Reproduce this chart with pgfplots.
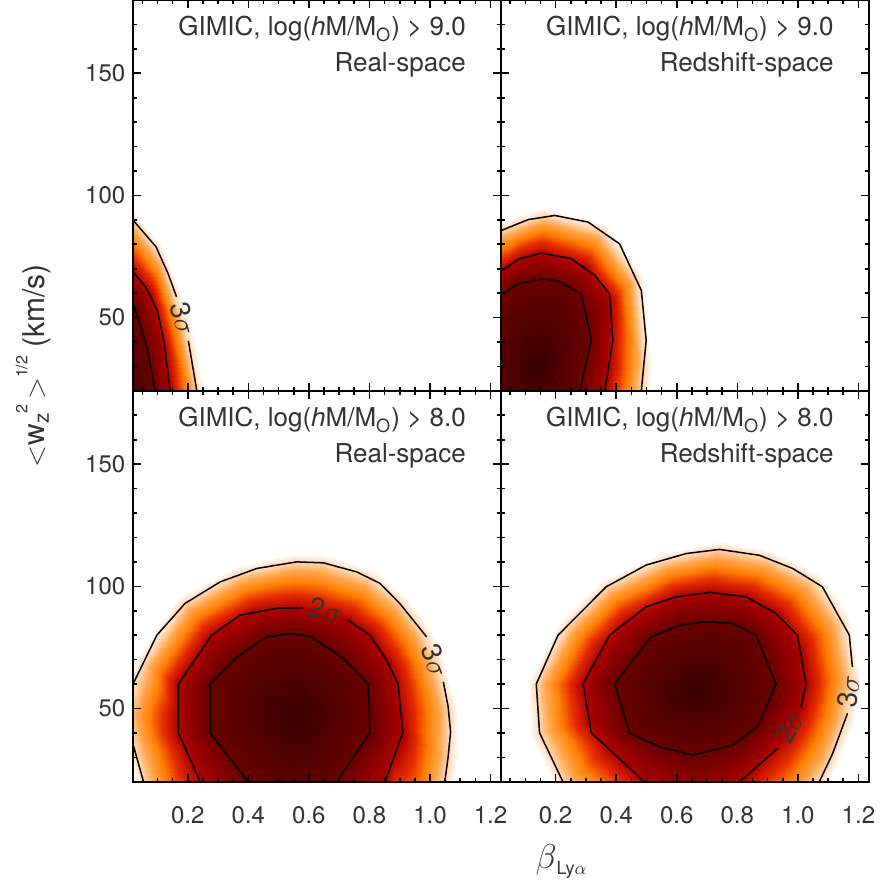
\documentclass[border=0pt]{standalone}
\usepackage{fontspec}
\setmainfont{TeX Gyre Heros}
\usepackage{pgfplots}
\pgfplotsset{compat=1.18}
\usepgfplotslibrary{groupplots}
\usetikzlibrary{calc}
\definecolor{txt}{gray}{0.2}
\pgfplotsset{
  colormap={gimic}{rgb255(0cm)=(58,0,0) rgb255(10cm)=(105,0,0) rgb255(20cm)=(172,0,0) rgb255(23cm)=(230,45,0) rgb255(25.5cm)=(255,125,0) rgb255(28cm)=(255,165,75) rgb255(30cm)=(255,214,176) rgb255(33cm)=(255,255,255)},
  ctr/.style={black, line width=0.75pt, no markers},
}
\tikzset{
  sig/.style={font=\fontsize{14}{16}\selectfont, text=txt, inner sep=0pt},
  ttl/.style={font=\fontsize{13}{15}\selectfont, text=txt, inner sep=0pt, anchor=base east},
}
\begin{document}
\begin{tikzpicture}
\begin{groupplot}[
  group style={group size=2 by 2, horizontal sep=0pt, vertical sep=0pt,
               x descriptions at=edge bottom, y descriptions at=edge left},
  scale only axis, width=184pt, height=195.5pt,
  xmin=0.02, xmax=1.235, ymin=20, ymax=180,
  xtick={0.2,0.4,0.6,0.8,1.0,1.2}, ytick={50,100,150},
  minor xtick={0.05,0.1,0.15,0.25,0.3,0.35,0.45,0.5,0.55,0.65,0.7,0.75,0.85,0.9,0.95,1.05,1.1,1.15},
  minor ytick={30,40,60,70,80,90,110,120,130,140,160,170},
  tick align=inside, major tick length=4pt, minor tick length=2pt,
  every tick/.style={black, line width=0.8pt},
  axis line style={line width=1pt},
  tick label style={font=\fontsize{12}{14}\selectfont, text=txt},
  xticklabel style={yshift=-9pt, /pgf/number format/.cd, fixed, fixed zerofill, precision=1},
  yticklabel style={xshift=-0.5pt},
  /pgf/number format/assume math mode=true,
  colormap name=gimic, point meta min=0, point meta max=3.3,
  axis on top,
]
% ---------------- top left ----------------
\nextgroupplot
\coordinate (tl) at (rel axis cs:0,1);
\addplot[surf, shader=interp, point meta=explicit, mesh/rows=5, mesh/cols=11] table[meta=v] {
x y v
-0.02 20 0
-0.02 20 0
-0.02 20 0
-0.02 20 0
-0.02 20 0
-0.02 20 0
-0.02 20 0
-0.02 20 0
-0.02 20 0
-0.02 20 0
-0.02 20 0
0.092 20 1
0.074 32 1
0.045 46 1
0.02 55.7 1
-0.02 58 1
-0.12 48 1
-0.14 20 1
-0.1 0 1
0.03 -8 1
0.085 5 1
0.092 20 1
0.142 20 2
0.121 38 2
0.08 58.9 2
0.02 68.7 2
-0.02 72 2
-0.15 62 2
-0.2 20 2
-0.15 -10 2
0.04 -20 2
0.14 0 2
0.142 20 2
0.23 20 3
0.188 46 3
0.11 74.6 3
0.02 89.8 3
-0.02 94 3
-0.2 80 3
-0.28 20 3
-0.2 -20 3
0.06 -40 3
0.22 -10 3
0.23 20 3
0.258 20 3.3
0.214 47.5 3.3
0.126 77.5 3.3
0.025 93.2 3.3
-0.02 97.5 3.3
-0.22 82.5 3.3
-0.308 20 3.3
-0.22 -22.5 3.3
0.06 -43.5 3.3
0.24 -12.5 3.3
0.258 20 3.3
};
\addplot[ctr] coordinates {(0.02,89.8) (0.095,79) (0.135,68) (0.163,58.5)};
\addplot[ctr] coordinates {(0.202,40.5) (0.23,20)};
\addplot[ctr] coordinates {(0.02,68.7) (0.062,62.3) (0.10,52.8) (0.122,39.8) (0.142,20)};
\addplot[ctr] coordinates {(0.02,55.7) (0.065,38) (0.092,20)};
\node[sig, rotate=-75] at (axis cs:0.185,49.6) {3$\sigma$};
\node[ttl] at ($(rel axis cs:1,1)+(-17.5pt,-18pt)$) {GIMIC, log(\textit{h}M/M\textsubscript{O}) > 9.0};
\node[ttl] at ($(rel axis cs:1,1)+(-17.5pt,-36pt)$) {Real-space};
% ---------------- top right ----------------
\nextgroupplot
\addplot[surf, shader=interp, point meta=explicit, mesh/rows=5, mesh/cols=13] table[meta=v] {
x y v
0.14 30 0
0.14 30 0
0.14 30 0
0.14 30 0
0.14 30 0
0.14 30 0
0.14 30 0
0.14 30 0
0.14 30 0
0.14 30 0
0.14 30 0
0.14 30 0
0.14 30 0
0.298 30 1
0.302 50 1
0.245 62.5 1
0.153 65.8 1
0.076 63.7 1
0.023 59.6 1
-0.05 45 1
-0.07 30 1
-0.03 5 1
0.14 -5 1
0.24 5 1
0.279 20 1
0.298 30 1
0.375 30 2
0.38 57 2
0.29 70.7 2
0.153 76.4 2
0.081 74.1 2
0.023 69.3 2
-0.08 58 2
-0.12 35 2
-0.08 0 2
0.14 -15 2
0.33 3 2
0.362 20 2
0.375 30 2
0.491 30 3
0.464 66 3
0.35 85.4 3
0.16 91.8 3
0.075 88.3 3
0.023 85.7 3
-0.12 75 3
-0.18 45 3
-0.15 -10 3
0.14 -30 3
0.46 0 3
0.483 20 3
0.491 30 3
0.519 30 3.3
0.488 68 3.3
0.365 88.4 3.3
0.162 95.3 3.3
0.072 91.5 3.3
0.013 89 3.3
-0.14 77.5 3.3
-0.208 45 3.3
-0.17 -12.5 3.3
0.14 -33.5 3.3
0.48 -2.5 3.3
0.511 20 3.3
0.519 30 3.3
};
\addplot[ctr] coordinates {(0.02,85.6) (0.109,90.1) (0.197,91.8) (0.307,89.1) (0.411,80.2) (0.483,61.1) (0.499,40.7) (0.483,20)};
\addplot[ctr] coordinates {(0.02,69.2) (0.081,74.1) (0.153,76.4) (0.252,74.1) (0.329,67.3) (0.378,59.7) (0.389,40.7) (0.362,20)};
\addplot[ctr] coordinates {(0.02,59.5) (0.076,63.7) (0.153,65.8) (0.208,65.1) (0.285,59.6) (0.318,40.7) (0.279,20)};
\node[ttl] at ($(rel axis cs:1,1)+(-17.5pt,-18pt)$) {GIMIC, log(\textit{h}M/M\textsubscript{O}) > 9.0};
\node[ttl] at ($(rel axis cs:1,1)+(-17.5pt,-36pt)$) {Redshift-space};
% ---------------- bottom left ----------------
\nextgroupplot
\coordinate (bl) at (rel axis cs:0,0);
\addplot[surf, shader=interp, point meta=explicit, mesh/rows=5, mesh/cols=21] table[meta=v] {
x y v
0.55 48 0
0.55 48 0
0.55 48 0
0.55 48 0
0.55 48 0
0.55 48 0
0.55 48 0
0.55 48 0
0.55 48 0
0.55 48 0
0.55 48 0
0.55 48 0
0.55 48 0
0.55 48 0
0.55 48 0
0.55 48 0
0.55 48 0
0.55 48 0
0.55 48 0
0.55 48 0
0.55 48 0
0.803 48 1
0.796 60 1
0.755 65.3 1
0.714 70.5 1
0.665 74.6 1
0.609 79.3 1
0.538 80.7 1
0.461 79.3 1
0.362 71.1 1
0.274 60 1
0.274 48 1
0.274 40 1
0.337 30 1
0.40 20 1
0.47 11 1
0.55 8 1
0.63 11 1
0.692 20 1
0.747 30 1
0.802 40 1
0.803 48 1
0.905 48 2
0.877 65 2
0.857 69.8 2
0.802 80 2
0.73 86.1 2
0.635 89.4 2
0.55 91.2 2
0.42 89.5 2
0.279 80 2
0.169 60 2
0.169 48 2
0.169 40 2
0.205 30 2
0.241 20 2
0.33 3 2
0.55 -3 2
0.76 3 2
0.851 20 2
0.88 30 2
0.910 40 2
0.905 48 2
1.062 48 3
1.017 70 3
0.968 82.5 3
0.90 93 3
0.80 103.3 3
0.648 109.6 3
0.55 110 3
0.37 105 3
0.191 93 3
0.051 68 3
0.0 48 3
0.02 36 3
0.08 10 3
0.2 -8 3
0.4 -15 3
0.55 -18 3
0.70 -15 3
0.88 -8 3
1.03 5 3
1.060 30.2 3
1.062 48 3
1.093 48 3.3
1.045 71.3 3.3
0.993 84.6 3.3
0.921 95.7 3.3
0.815 106.6 3.3
0.654 113.3 3.3
0.55 113.7 3.3
0.359 108.4 3.3
0.169 95.7 3.3
0.021 69.2 3.3
-0.033 48 3.3
-0.012 35.3 3.3
0.052 7.7 3.3
0.179 -11.4 3.3
0.391 -18.8 3.3
0.55 -22 3.3
0.709 -18.8 3.3
0.90 -11.4 3.3
1.059 2.4 3.3
1.091 29.1 3.3
1.093 48 3.3
};
\addplot[ctr] coordinates {(0.054,20) (0.02,35) (0.0,47) (0.02,60.2) (0.098,80) (0.191,93) (0.307,101.8) (0.428,107.3) (0.56,110) (0.648,109.6) (0.758,105.9) (0.835,101.2) (0.90,93) (0.945,86.1) (0.989,79.3)};
\addplot[ctr] coordinates {(1.044,60.9) (1.060,50.7) (1.068,40.4) (1.060,30.2) (1.049,20)};
\addplot[ctr] coordinates {(0.241,20) (0.169,40) (0.169,60) (0.279,80) (0.373,88.2) (0.494,91) (0.582,91.2)};
\addplot[ctr] coordinates {(0.730,86.1) (0.802,80) (0.857,69.8) (0.895,60) (0.910,40) (0.851,20)};
\addplot[ctr] coordinates {(0.40,20) (0.274,40) (0.274,60) (0.362,71.1) (0.461,79.3) (0.538,80.7) (0.609,79.3) (0.714,70.5) (0.796,60) (0.802,40) (0.692,20)};
\node[sig, rotate=-14] at (axis cs:0.657,90.3) {2$\sigma$};
\node[sig, rotate=-70] at (axis cs:1.016,69.5) {3$\sigma$};
\node[ttl] at ($(rel axis cs:1,1)+(-17.5pt,-18pt)$) {GIMIC, log(\textit{h}M/M\textsubscript{O}) > 8.0};
\node[ttl] at ($(rel axis cs:1,1)+(-17.5pt,-36pt)$) {Real-space};
% ---------------- bottom right ----------------
\nextgroupplot
\coordinate (br) at (rel axis cs:1,0);
\addplot[surf, shader=interp, point meta=explicit, mesh/rows=5, mesh/cols=19] table[meta=v] {
x y v
0.66 57 0
0.66 57 0
0.66 57 0
0.66 57 0
0.66 57 0
0.66 57 0
0.66 57 0
0.66 57 0
0.66 57 0
0.66 57 0
0.66 57 0
0.66 57 0
0.66 57 0
0.66 57 0
0.66 57 0
0.66 57 0
0.66 57 0
0.66 57 0
0.66 57 0
0.928 60 1
0.895 70 1
0.862 80 1
0.785 84.8 1
0.697 85.5 1
0.609 84.1 1
0.516 79.3 1
0.458 70 1
0.395 60 1
0.42 50 1
0.444 40 1
0.543 34.3 1
0.60 32 1
0.653 30.9 1
0.72 32.5 1
0.785 35 1
0.867 42.5 1
0.90 51 1
0.928 60 1
1.027 60 2
1.006 75 2
0.928 88.9 2
0.829 95.7 2
0.708 97.5 2
0.598 95.7 2
0.44 86 2
0.356 75 2
0.290 60 2
0.309 45 2
0.379 33 2
0.493 20 2
0.56 13 2
0.65 10 2
0.75 14 2
0.85 24.6 2
0.96 39.6 2
1.01 50.7 2
1.027 60 2
1.178 62 3
1.143 86 3
1.05 102.2 3
0.90 111.4 3
0.741 115.1 3
0.56 110.9 3
0.367 99.8 3
0.235 83.4 3
0.136 60 3
0.147 40 3
0.224 20 3
0.36 0 3
0.52 -5 3
0.65 -7 3
0.82 -5 3
0.98 5 3
1.095 26 3
1.152 44 3
1.178 62 3
1.209 62.3 3.3
1.172 87.7 3.3
1.073 104.9 3.3
0.914 114.7 3.3
0.746 118.6 3.3
0.554 114.1 3.3
0.349 102.4 3.3
0.209 85.0 3.3
0.105 60.2 3.3
0.116 39 3.3
0.198 17.8 3.3
0.342 -3.4 3.3
0.512 -8.7 3.3
0.649 -10.8 3.3
0.83 -8.7 3.3
0.999 1.9 3.3
1.121 24.1 3.3
1.182 43.2 3.3
1.209 62.3 3.3
};
\addplot[ctr] coordinates {(0.224,20) (0.147,40) (0.136,60) (0.208,80) (0.367,99.8) (0.499,108.7) (0.631,113.4) (0.741,115.1) (0.873,112.7) (0.983,107.3) (1.081,99.8) (1.170,80) (1.180,67)};
\addplot[ctr] coordinates {(1.164,48) (1.115,31.6) (1.071,20)};
\addplot[ctr] coordinates {(0.493,20) (0.318,40) (0.290,60) (0.378,80) (0.499,91.6) (0.598,95.7) (0.708,97.5) (0.829,95.7) (0.928,88.9) (0.999,80) (1.027,60) (1.010,50.7)};
\addplot[ctr] coordinates {(0.933,33.6) (0.807,20)};
\addplot[ctr] coordinates {(0.444,40) (0.395,60) (0.516,79.3) (0.609,84.1) (0.697,85.5) (0.785,84.8) (0.862,80) (0.928,60) (0.867,42.5) (0.785,35) (0.653,30.9) (0.543,34.3) (0.444,40)};
\node[sig, rotate=61] at (axis cs:0.972,42.5) {2$\sigma$};
\node[sig, rotate=84] at (axis cs:1.168,57) {3$\sigma$};
\node[ttl] at ($(rel axis cs:1,1)+(-17.5pt,-18pt)$) {GIMIC, log(\textit{h}M/M\textsubscript{O}) > 8.0};
\node[ttl] at ($(rel axis cs:1,1)+(-17.5pt,-36pt)$) {Redshift-space};
\end{groupplot}
\node[rotate=90, text=txt, font=\fontsize{15}{17}\selectfont] at ($(tl)+(-50pt,-182.9pt)$)
  {$<$w\textsubscript{z}\kern-0.05em\raisebox{1.1ex}{\fontsize{8}{9}\selectfont 2}\,$>$\raisebox{1.1ex}{\fontsize{8}{9}\selectfont 1/2} (km/s)};
\node[text=txt, inner sep=0pt] at ($(bl)+(214pt,-40pt)$)
  {{\fontsize{19}{21}\selectfont$\beta$}{\fontsize{9}{10}\selectfont\raisebox{-3pt}{Ly$\alpha$}}};
\pgfresetboundingbox
\path[use as bounding box] ($(tl)+(-66.65pt,0pt)$) rectangle ($(br)+(5.5pt,-50.15pt)$);
\end{tikzpicture}
\end{document}
